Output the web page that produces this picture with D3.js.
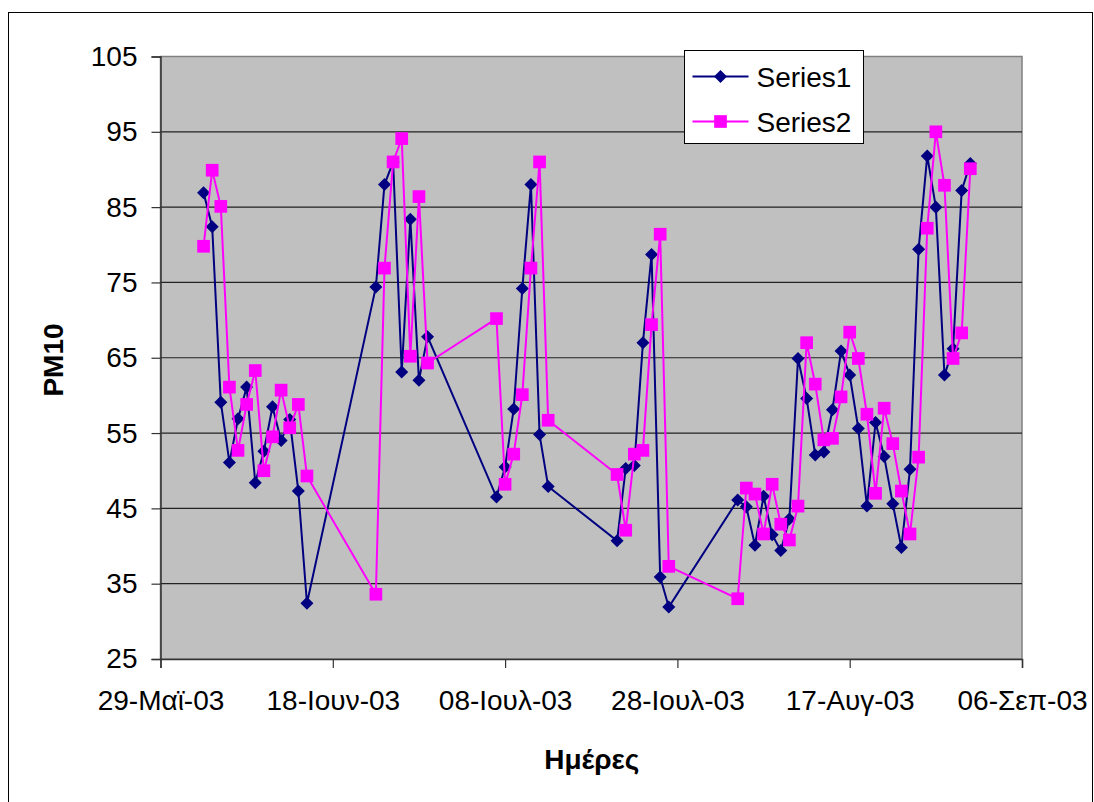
<!DOCTYPE html>
<html>
<head>
<meta charset="utf-8">
<script src="https://cdn.jsdelivr.net/npm/d3@7"></script>
<style>
  body { margin: 0; background: #fff; }
  text { font-family: "Liberation Sans", Arial, sans-serif; }
</style>
</head>
<body>
<div id="chart"></div>
<script>
// measurement days (PM10)
var days = [
  "2003-06-03","2003-06-04","2003-06-05","2003-06-06","2003-06-07","2003-06-08","2003-06-09",
  "2003-06-10","2003-06-11","2003-06-12","2003-06-13","2003-06-14","2003-06-15",
  "2003-06-23","2003-06-24","2003-06-25","2003-06-26","2003-06-27","2003-06-28","2003-06-29",
  "2003-07-07","2003-07-08","2003-07-09","2003-07-10","2003-07-11","2003-07-12","2003-07-13",
  "2003-07-21","2003-07-22","2003-07-23","2003-07-24","2003-07-25","2003-07-26","2003-07-27",
  "2003-08-04","2003-08-05","2003-08-06","2003-08-07","2003-08-08","2003-08-09","2003-08-10",
  "2003-08-11","2003-08-12","2003-08-13","2003-08-14","2003-08-15","2003-08-16","2003-08-17",
  "2003-08-18","2003-08-19","2003-08-20","2003-08-21","2003-08-22","2003-08-23","2003-08-24",
  "2003-08-25","2003-08-26","2003-08-27","2003-08-28","2003-08-29","2003-08-30","2003-08-31"
];
var series1 = [
  86.9, 82.4, 59.1, 51.1, 56.9, 61.1, 48.4, 52.6, 58.5, 54.0, 56.8, 47.3, 32.4,
  74.4, 88.0, 91.0, 63.1, 83.4, 62.0, 67.8,
  46.5, 50.5, 58.2, 74.2, 88.0, 54.8, 47.9,
  40.7, 50.3, 50.7, 67.0, 78.7, 35.9, 31.9,
  46.1, 45.2, 40.1, 46.6, 41.5, 39.4, 43.6, 64.9, 59.6, 52.1, 52.5, 58.1, 65.9, 62.7,
  55.6, 45.3, 56.4, 51.9, 45.6, 39.8, 50.2, 79.4, 91.8, 85.0, 62.7, 66.2, 87.2, 90.8
];
var series2 = [
  79.8, 89.9, 85.1, 61.1, 52.7, 58.8, 63.3, 50.0, 54.5, 60.7, 55.7, 58.8, 49.3,
  33.6, 76.9, 91.0, 94.1, 65.2, 86.4, 64.3,
  70.2, 48.2, 52.2, 60.1, 76.9, 91.0, 56.7,
  49.5, 42.1, 52.2, 52.7, 69.4, 81.4, 37.3,
  33.0, 47.7, 46.9, 41.6, 48.2, 42.9, 40.8, 45.3, 67.0, 61.5, 54.1, 54.3, 59.8, 68.4,
  64.9, 57.5, 47.0, 58.3, 53.6, 47.3, 41.6, 51.8, 82.2, 95.0, 87.9, 64.9, 68.3, 90.1
];
var seriesNames = ["Series1", "Series2"];
var xTickDates = ["2003-05-29","2003-06-18","2003-07-08","2003-07-28","2003-08-17","2003-09-06"];
var xTickLabels = ["29-Μαϊ-03","18-Ιουν-03","08-Ιουλ-03","28-Ιουλ-03","17-Αυγ-03","06-Σεπ-03"];
var yTicks = [25, 35, 45, 55, 65, 75, 85, 95, 105];

var width = 1094, height = 802;
var plot = {left: 160.5, right: 1022, top: 56.5, bottom: 659};
var parse = d3.timeParse("%Y-%m-%d");
var colors = ["#000080", "#ff00ff"];

var svg = d3.select("#chart").append("svg")
    .attr("width", width)
    .attr("height", height);

// outer frame
svg.append("rect")
    .attr("x", 8.5).attr("y", 12.5)
    .attr("width", 1084).attr("height", 790)
    .attr("fill", "#fff").attr("stroke", "#000").attr("stroke-width", 1);

var x = d3.scaleTime()
    .domain([parse(xTickDates[0]), parse(xTickDates[xTickDates.length - 1])])
    .range([plot.left, plot.right]);
var y = d3.scaleLinear()
    .domain([25, 105])
    .range([plot.bottom, plot.top]);

svg.append("rect")
    .attr("x", plot.left).attr("y", plot.top)
    .attr("width", plot.right - plot.left).attr("height", plot.bottom - plot.top)
    .attr("fill", "#c0c0c0").attr("stroke", "#808080").attr("stroke-width", 1.5);

// gridlines
svg.append("g").selectAll("line")
    .data(yTicks.slice(1, -1))
    .enter().append("line")
    .attr("x1", plot.left).attr("x2", plot.right)
    .attr("y1", d => y(d)).attr("y2", d => y(d))
    .attr("stroke", "#222").attr("stroke-width", 1.2);

// axes
var yAxis = svg.append("g")
    .attr("transform", "translate(" + plot.left + ",0)")
    .call(d3.axisLeft(y).tickValues(yTicks).tickSize(9).tickPadding(14));
var xAxis = svg.append("g")
    .attr("transform", "translate(0," + plot.bottom + ")")
    .call(d3.axisBottom(x).tickValues(xTickDates.map(parse)).tickSize(9).tickPadding(22)
        .tickFormat((d, i) => xTickLabels[i]));

[yAxis, xAxis].forEach(function(a) {
    a.select(".domain").attr("stroke", "#333").attr("stroke-width", 1.5);
    a.selectAll(".tick line").attr("stroke", "#333").attr("stroke-width", 1.2);
    a.selectAll("text").attr("fill", "#000")
        .style("font-size", "28px").style("font-family", "'Liberation Sans', Arial, sans-serif");
});
xAxis.selectAll("text").attr("dy", "0.71em");

// axis titles
svg.append("text")
    .attr("x", (plot.left + plot.right) / 2 + 0.5).attr("y", 769)
    .attr("text-anchor", "middle")
    .style("font-size", "28px").style("font-weight", "bold")
    .text("Ημέρες");
svg.append("text")
    .attr("transform", "translate(63,360) rotate(-90)")
    .attr("text-anchor", "middle")
    .style("font-size", "28px").style("font-weight", "bold")
    .text("PM10");

var line = d3.line()
    .x(d => x(d.t))
    .y(d => y(d.v));

var markers = [
    d3.symbol().type(d3.symbolDiamond2).size(108),
    d3.symbol().type(d3.symbolSquare2).size(205)
];

[series1, series2].forEach(function(vals, si) {
    var pts = days.map((d, i) => ({t: parse(d), v: vals[i]}));
    svg.append("path")
        .datum(pts)
        .attr("d", line)
        .attr("fill", "none")
        .attr("stroke", colors[si])
        .attr("stroke-width", 2);
    svg.append("g").selectAll("path")
        .data(pts)
        .enter().append("path")
        .attr("transform", d => "translate(" + x(d.t) + "," + y(d.v) + ")")
        .attr("d", markers[si])
        .attr("fill", colors[si]);
});

// legend
var lg = svg.append("g").attr("transform", "translate(684.5,50.5)");
lg.append("rect")
    .attr("width", 179).attr("height", 93)
    .attr("fill", "#fff").attr("stroke", "#000").attr("stroke-width", 1);
seriesNames.forEach(function(name, i) {
    var yy = 26 + i * 45;
    lg.append("line")
        .attr("x1", 8).attr("x2", 64).attr("y1", yy).attr("y2", yy)
        .attr("stroke", colors[i]).attr("stroke-width", 2);
    lg.append("path")
        .attr("transform", "translate(36," + yy + ")")
        .attr("d", markers[i])
        .attr("fill", colors[i]);
    lg.append("text")
        .attr("x", 72).attr("y", yy + 10)
        .style("font-size", "28px")
        .text(name);
});
</script>
</body>
</html>
